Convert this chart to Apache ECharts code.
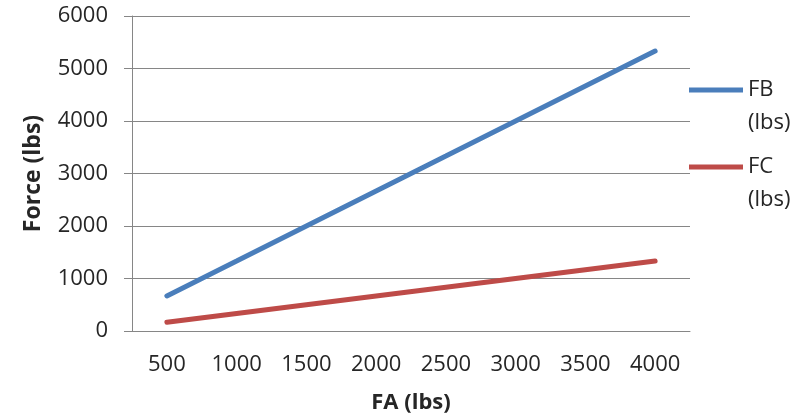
<!DOCTYPE html>
<html>
<head>
<meta charset="utf-8">
<script src="https://cdn.jsdelivr.net/npm/echarts@6/dist/echarts.min.js"></script>
<style>
  html, body { margin: 0; padding: 0; background: #fff; }
  #chart { width: 796px; height: 413px; }
</style>
</head>
<body>
<div id="chart"></div>
<script>
const categories = ['500', '1000', '1500', '2000', '2500', '3000', '3500', '4000']
const fbValues = [667, 1333, 2000, 2667, 3333, 4000, 4667, 5333]
const fcValues = [167, 333, 500, 667, 833, 1000, 1167, 1333]
const yTicks = { min: 0, max: 6000, interval: 1000 }

const font = 'Open Sans'
const textColor = '#262626'
const chart = echarts.init(document.getElementById('chart'))

// legend text wraps under the name, icon sits on the first line:
// an empty spacer line on top keeps the icon level with "FB"/"FC"
function legendBox(name, top) {
  return {
    orient: 'vertical',
    left: 689,
    top: top,
    padding: 0,
    itemWidth: 54,
    itemHeight: 5,
    icon: 'rect',
    data: [name],
    formatter: n => '{s| }\n{t|' + n.split(' ')[0] + '}\n{t|' + n.split(' ')[1] + '}',
    textStyle: {
      fontFamily: font,
      fontSize: 22,
      color: textColor,
      rich: {
        s: { lineHeight: 33, fontSize: 22 },
        t: { lineHeight: 33, fontSize: 22, fontFamily: font, color: textColor }
      }
    }
  }
}

chart.setOption({
  animation: false,
  grid: { left: 132, top: 16, right: 106, bottom: 82, containLabel: false, outerBoundsMode: 'none' },
  legend: [legendBox('FB (lbs)', 46), legendBox('FC (lbs)', 123)],
  xAxis: {
    type: 'category',
    data: categories,
    boundaryGap: true,
    name: 'FA (lbs)',
    nameLocation: 'middle',
    nameGap: 61,
    nameTextStyle: { fontFamily: font, fontSize: 22, fontWeight: 'bold', color: textColor },
    axisLine: { lineStyle: { color: '#868686', width: 1 } },
    axisTick: { alignWithLabel: false, length: 9, lineStyle: { color: '#868686' } },
    axisLabel: { margin: 23, fontFamily: font, fontSize: 22, color: textColor }
  },
  yAxis: {
    type: 'value',
    min: yTicks.min,
    max: yTicks.max,
    interval: yTicks.interval,
    name: 'Force (lbs)',
    nameLocation: 'middle',
    nameGap: 87,
    nameTextStyle: { fontFamily: font, fontSize: 23, fontWeight: 'bold', color: textColor },
    axisLine: { show: true, lineStyle: { color: '#868686', width: 1 } },
    axisTick: { show: true, length: 8, lineStyle: { color: '#868686' } },
    axisLabel: { margin: 24, fontFamily: font, fontSize: 22, color: textColor, formatter: v => String(v) },
    splitLine: { lineStyle: { color: '#868686', width: 1 } }
  },
  series: [
    {
      name: 'FB (lbs)',
      type: 'line',
      data: fbValues,
      symbol: 'none',
      color: '#4A7EBB',
      lineStyle: { width: 5, color: '#4A7EBB', cap: 'round' }
    },
    {
      name: 'FC (lbs)',
      type: 'line',
      data: fcValues,
      symbol: 'none',
      color: '#BE4B48',
      lineStyle: { width: 5, color: '#BE4B48', cap: 'round' }
    }
  ]
})
</script>
</body>
</html>
